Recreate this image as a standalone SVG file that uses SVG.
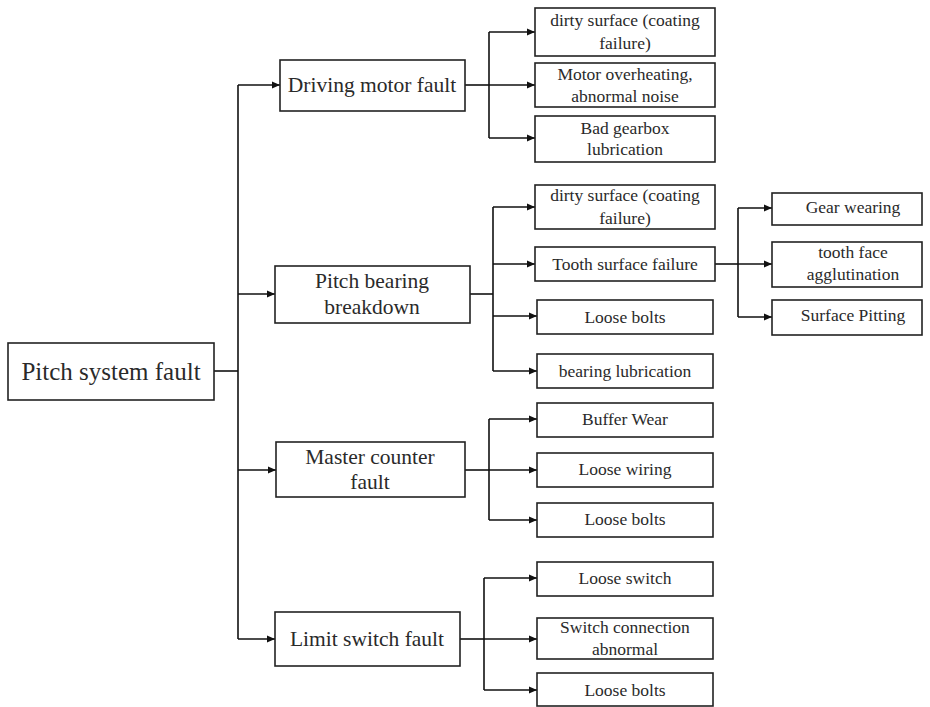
<svg xmlns="http://www.w3.org/2000/svg" width="930" height="707" viewBox="0 0 930 707">
<defs>
<marker id="ah" viewBox="0 0 8 8" refX="8" refY="4" markerWidth="8" markerHeight="8" markerUnits="userSpaceOnUse" orient="auto">
<path d="M0,0.5 L8,4 L0,7.5 Z" fill="#111"/>
</marker>
</defs>
<style>
rect{fill:#fff;stroke:#222;stroke-width:1.6}
text{font-family:"Liberation Serif","Times New Roman",serif;fill:#2a2a2a;text-anchor:middle;dominant-baseline:central}
.t0{font-size:25px}
.t1{font-size:21.5px}
.t2{font-size:17.5px}
.c path{fill:none;stroke:#111;stroke-width:1.6}
.c path.a{marker-end:url(#ah)}
</style>
<rect x="0" y="0" width="930" height="707" style="fill:#fff;stroke:none"/>
<g class="c" id="connectors">
<path d="M214,371 H238"/>
<path d="M238,85 V639"/>
<path class="a" d="M238,85 H280"/>
<path class="a" d="M238,294 H275"/>
<path class="a" d="M238,470 H276"/>
<path class="a" d="M238,639 H275"/>
<path d="M465,85 H489"/>
<path d="M489,32 V138"/>
<path class="a" d="M489,32 H535"/>
<path class="a" d="M489,85 H535"/>
<path class="a" d="M489,138 H535"/>
<path d="M470,294 H493"/>
<path d="M493,207 V371"/>
<path class="a" d="M493,207 H535"/>
<path class="a" d="M493,264 H535"/>
<path class="a" d="M493,316 H537"/>
<path class="a" d="M493,371 H537"/>
<path d="M715,264 H738"/>
<path d="M738,208 V317"/>
<path class="a" d="M738,208 H772"/>
<path class="a" d="M738,264 H772"/>
<path class="a" d="M738,317 H772"/>
<path d="M465,470 H489"/>
<path d="M489,419 V520"/>
<path class="a" d="M489,419 H537"/>
<path class="a" d="M489,470 H537"/>
<path class="a" d="M489,520 H537"/>
<path d="M460,639 H484"/>
<path d="M484,578 V690"/>
<path class="a" d="M484,578 H537"/>
<path class="a" d="M484,639 H537"/>
<path class="a" d="M484,690 H537"/>
</g>
<g id="root"><rect x="8" y="343" width="206" height="57"/><text class="t0" x="111" y="371">Pitch system fault</text></g>
<g id="driving"><rect x="280" y="60" width="185" height="51"/><text class="t1" x="372" y="85">Driving motor fault</text></g>
<g id="pitchbearing"><rect x="275" y="266" width="195" height="57"/><text class="t1" x="372" y="281">Pitch bearing</text><text class="t1" x="372" y="307">breakdown</text></g>
<g id="master"><rect x="276" y="442" width="189" height="55"/><text class="t1" x="370" y="457">Master counter</text><text class="t1" x="370" y="482">fault</text></g>
<g id="limit"><rect x="275" y="612" width="185" height="54"/><text class="t1" x="367" y="639">Limit switch fault</text></g>
<g id="d1"><rect x="535" y="8" width="180" height="48"/><text class="t2" x="625" y="20">dirty surface (coating</text><text class="t2" x="625" y="43">failure)</text></g>
<g id="d2"><rect x="535" y="63" width="180" height="44"/><text class="t2" x="625" y="74">Motor overheating,</text><text class="t2" x="625" y="96">abnormal noise</text></g>
<g id="d3"><rect x="535" y="116" width="180" height="46"/><text class="t2" x="625" y="128">Bad gearbox</text><text class="t2" x="625" y="149">lubrication</text></g>
<g id="p1"><rect x="535" y="185" width="180" height="44"/><text class="t2" x="625" y="195">dirty surface (coating</text><text class="t2" x="625" y="218">failure)</text></g>
<g id="p2"><rect x="535" y="247" width="180" height="34"/><text class="t2" x="625" y="264">Tooth surface failure</text></g>
<g id="p3"><rect x="537" y="300" width="176" height="34"/><text class="t2" x="625" y="317">Loose bolts</text></g>
<g id="p4"><rect x="537" y="354" width="176" height="34"/><text class="t2" x="625" y="371">bearing lubrication</text></g>
<g id="t1"><rect x="772" y="193" width="150" height="32"/><text class="t2" x="853" y="207">Gear wearing</text></g>
<g id="t2"><rect x="772" y="242" width="150" height="45"/><text class="t2" x="853" y="252">tooth face</text><text class="t2" x="853" y="274">agglutination</text></g>
<g id="t3"><rect x="772" y="300" width="150" height="35"/><text class="t2" x="853" y="315">Surface Pitting</text></g>
<g id="m1"><rect x="537" y="403" width="176" height="34"/><text class="t2" x="625" y="419">Buffer Wear</text></g>
<g id="m2"><rect x="537" y="453" width="176" height="34"/><text class="t2" x="625" y="469">Loose wiring</text></g>
<g id="m3"><rect x="537" y="503" width="176" height="34"/><text class="t2" x="625" y="519">Loose bolts</text></g>
<g id="l1"><rect x="537" y="562" width="176" height="34"/><text class="t2" x="625" y="578">Loose switch</text></g>
<g id="l2"><rect x="537" y="618" width="176" height="41"/><text class="t2" x="625" y="627">Switch connection</text><text class="t2" x="625" y="649">abnormal</text></g>
<g id="l3"><rect x="537" y="673" width="176" height="33"/><text class="t2" x="625" y="690">Loose bolts</text></g>
</svg>
